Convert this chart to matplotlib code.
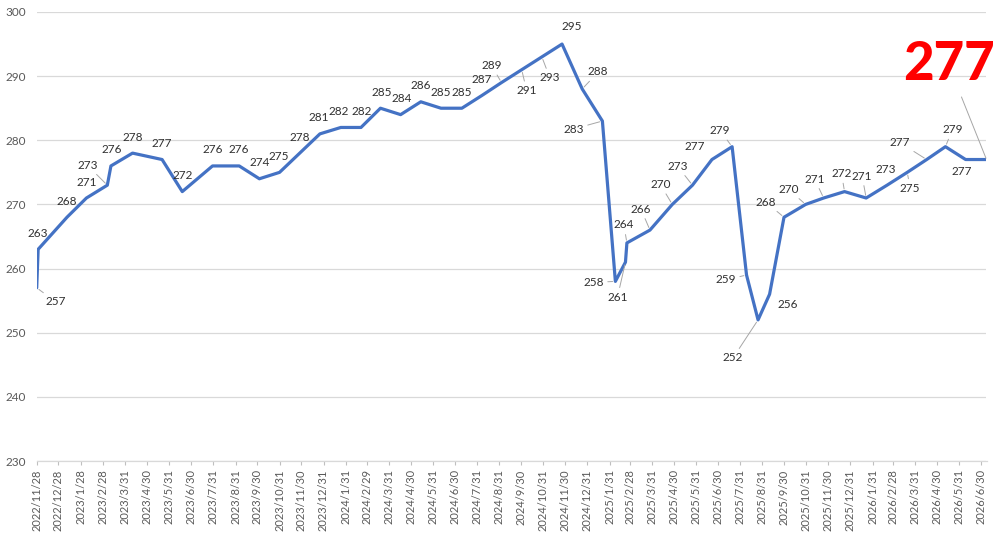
import pandas as pd
import matplotlib.pyplot as plt
import matplotlib.dates as mdates


# -----------------------------
# Style
# -----------------------------
LINE_COLOR = "#4472C4"
GRID_COLOR = "#D9D9D9"
TEXT_COLOR = "#303030"
TICK_TEXT_COLOR = "#595959"
LEADER_COLOR = "#A6A6A6"

plt.rcParams["font.family"] = ["Lato", "DejaVu Sans"]


# -----------------------------
# Data
# -----------------------------
dates = [
    "2022-11-28", "2022-11-30", "2023-01-09", "2023-02-05", "2023-03-06",
    "2023-03-11", "2023-04-10", "2023-05-21", "2023-06-18", "2023-07-30",
    "2023-09-05", "2023-10-03", "2023-10-31", "2023-11-28", "2023-12-26",
    "2024-01-24", "2024-02-21", "2024-03-19", "2024-04-16", "2024-05-14",
    "2024-06-11", "2024-07-10", "2024-08-07", "2024-09-03", "2024-10-01",
    "2024-10-29", "2024-11-26", "2024-12-24", "2025-01-21", "2025-02-08",
    "2025-02-22", "2025-02-24", "2025-03-28", "2025-04-28", "2025-05-26",
    "2025-06-22", "2025-07-20", "2025-08-09", "2025-08-25", "2025-09-10",
    "2025-09-30", "2025-10-30", "2025-11-24", "2025-12-23", "2026-01-22",
    "2026-02-20", "2026-03-20", "2026-04-16", "2026-05-12", "2026-06-09",
    "2026-07-08",
]
values = [
    257, 263, 268, 271, 273, 276, 278, 277, 272, 276,
    276, 274, 275, 278, 281, 282, 282, 285, 284, 286,
    285, 285, 287, 289, 291, 293, 295, 288, 283, 258,
    261, 264, 266, 270, 273, 277, 279, 259, 252, 256,
    268, 270, 271, 272, 271, 273, 275, 277, 279, 277,
    277,
]

tick_dates = [
    "2022-11-28", "2022-12-28", "2023-01-28", "2023-02-28", "2023-03-31",
    "2023-04-30", "2023-05-31", "2023-06-30", "2023-07-31", "2023-08-31",
    "2023-09-30", "2023-10-31", "2023-11-30", "2023-12-31", "2024-01-31",
    "2024-02-29", "2024-03-31", "2024-04-30", "2024-05-31", "2024-06-30",
    "2024-07-31", "2024-08-31", "2024-09-30", "2024-10-31", "2024-11-30",
    "2024-12-31", "2025-01-31", "2025-02-28", "2025-03-31", "2025-04-30",
    "2025-05-31", "2025-06-30", "2025-07-31", "2025-08-31", "2025-09-30",
    "2025-10-31", "2025-11-30", "2025-12-31", "2026-01-31", "2026-02-28",
    "2026-03-31", "2026-04-30", "2026-05-31", "2026-06-30",
]

y_ticks = [230, 240, 250, 260, 270, 280, 290, 300]

# label placement: offset from the point in pixels (dx, dy up), leader line on/off
label_offsets = [
    (19, -14, True), (0, 16, False), (0, 16, False), (0, 16, False), (-20, 20, True),
    (1, 16, False), (0, 16, False), (0, 16, False), (0, 16, False), (0, 16, False),
    (0, 16, False), (0, 16, False), (-1, 16, False), (0, 16, False), (-1, 16, False),
    (-2, 16, False), (1, 16, False), (1, 16, False), (1, 16, False), (0, 16, False),
    (0, 16, False), (0, 16, False), (0, 16, False), (-10, 17, True), (5, -21, True),
    (8, -21, True), (10, 18, False), (16, 17, True), (-29, -8, True), (-22, -1, True),
    (-8, -35, True), (-3, 18, True), (-9, 21, True), (-12, 20, True), (-15, 19, True),
    (-17, 13, False), (-12, 16, True), (-21, -5, True), (-25, -38, True), (18, -10, False),
    (-18, 15, True), (-17, 15, True), (-9, 19, True), (-3, 18, True), (-4, 22, True),
    (-1, 16, False), (3, -16, True), (-27, 17, True), (7, 17, True), (-4, -12, False),
]

df = pd.DataFrame({"date": pd.to_datetime(dates), "value": values})
x = mdates.date2num(df["date"])

fig = plt.figure(figsize=(9.98, 5.33), dpi=100)
ax = fig.add_axes([36.7 / 998, 1 - 461 / 533, (986.5 - 36.7) / 998, (461 - 12) / 533])

ax.plot(x, df["value"], color=LINE_COLOR, linewidth=2.3,
        solid_joinstyle="round", solid_capstyle="round", zorder=3)

# data labels
for xi, v, (dx, dy, leader) in zip(x, df["value"], label_offsets):
    arrow = None
    if leader:
        arrow = dict(arrowstyle="-", color=LEADER_COLOR, lw=0.7,
                     shrinkA=1, shrinkB=2)
    ax.annotate(str(v), xy=(xi, v), xytext=(dx, dy), textcoords="offset pixels",
                ha="center", va="center", fontsize=8.5, color=TEXT_COLOR,
                arrowprops=arrow, zorder=4)

# highlighted latest value
ax.annotate(str(values[-1]), xy=(x[-1], values[-1]), xytext=(-38, 95),
            textcoords="offset pixels", ha="center", va="center",
            fontsize=38, fontweight="black", color="#FF0000",
            arrowprops=dict(arrowstyle="-", color=LEADER_COLOR, lw=0.7,
                            shrinkA=4, shrinkB=1),
            zorder=4)

# axes
ax.set_ylim(230, 300)
ax.set_yticks(y_ticks)
ax.set_xlim(x[0], x[-1])

tick_x = pd.to_datetime(tick_dates)
ax.set_xticks(mdates.date2num(tick_x))
ax.set_xticklabels([f"{d.year}/{d.month}/{d.day}" for d in tick_x], rotation=90)

ax.grid(axis="y", color=GRID_COLOR, linewidth=0.9)
ax.set_axisbelow(True)
for side in ["left", "top", "right"]:
    ax.spines[side].set_visible(False)
ax.spines["bottom"].set_color(GRID_COLOR)
ax.spines["bottom"].set_linewidth(0.9)

ax.tick_params(axis="y", length=0, pad=8, labelsize=8.5, labelcolor=TICK_TEXT_COLOR)
ax.tick_params(axis="x", direction="out", length=3, width=0.8, color="#BFBFBF",
               pad=3, labelsize=8, labelcolor=TICK_TEXT_COLOR)

plt.savefig("out.png", dpi=100)
plt.close()
